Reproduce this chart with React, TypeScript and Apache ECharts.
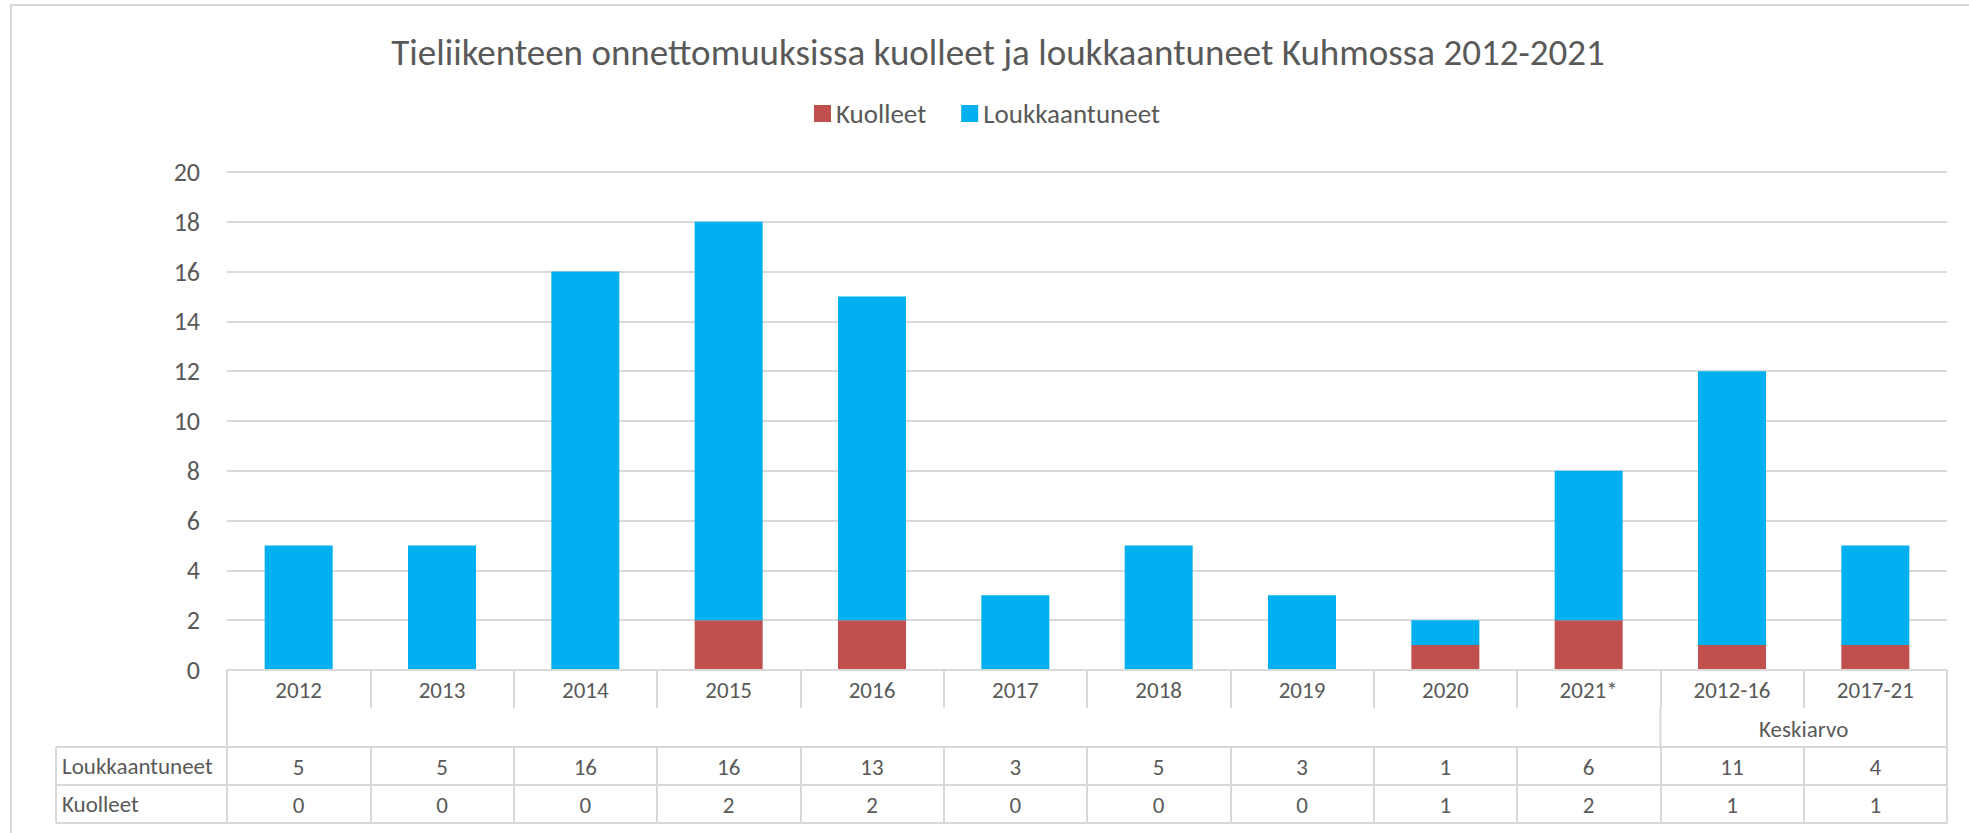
import React, { useEffect, useRef } from "react";
import * as echarts from "echarts";

const categories = ["2012", "2013", "2014", "2015", "2016", "2017", "2018", "2019", "2020", "2021*", "2012-16", "2017-21"];
const kuolleet = [0, 0, 0, 2, 2, 0, 0, 0, 1, 2, 1, 1];
const loukkaantuneet = [5, 5, 16, 16, 13, 3, 5, 3, 1, 6, 11, 4];
const yTicks = { min: 0, max: 20, interval: 2 };
const groupLabel = "Keskiarvo";
const groupStartIndex = 10;
const titleText = "Tieliikenteen onnettomuuksissa kuolleet ja loukkaantuneet Kuhmossa 2012-2021";

const FONT = "Carlito, Calibri, Lato, sans-serif";
const TXT = "#595959";
const LINE = "#D9D9D9";
const RED = "#C0504D";
const BLUE = "#00B0F0";

const ROW1 = 38; // category label row height
const ROW2 = 77; // top of data table
const ROW3 = 115;
const ROW4 = 153;
const TABLE_LEFT = 56;

export default function App() {
  const ref = useRef<HTMLDivElement>(null);
  useEffect(() => {
    if (!ref.current) return;
    const chart = echarts.init(ref.current, undefined, { renderer: "svg" });
    const axisLine = { show: true, lineStyle: { color: LINE, width: 2 } };
    const tick = { show: true, interval: 0, length: ROW1, lineStyle: { color: LINE, width: 2 } };
    const lbl = (fmt: any) => ({
      show: true,
      interval: 0,
      margin: 8,
      color: TXT,
      fontFamily: FONT,
      fontSize: 23,
      formatter: fmt,
    });
    chart.setOption({
      animation: false,
      backgroundColor: "#ffffff",
      title: {
        text: titleText,
        left: 993,
        textAlign: "center",
        top: 29,
        textStyle: { color: TXT, fontFamily: FONT, fontSize: 37, fontWeight: "normal" },
      },
      legend: {
        data: ["Kuolleet", "Loukkaantuneet"],
        left: 809,
        top: 95,
        icon: "rect",
        itemWidth: 17,
        itemHeight: 17,
        itemGap: 35,
        textStyle: { color: TXT, fontFamily: FONT, fontSize: 27 },
      },
      grid: { left: 227, right: 22, top: 172, bottom: 163, containLabel: false },
      yAxis: {
        type: "value",
        min: yTicks.min,
        max: yTicks.max,
        interval: yTicks.interval,
        axisLine: { show: false },
        axisTick: { show: false },
        axisLabel: { color: TXT, fontFamily: FONT, fontSize: 26, margin: 27 },
        splitLine: { show: true, lineStyle: { color: LINE, width: 2 } },
      },
      xAxis: [
        {
          type: "category",
          data: categories,
          position: "bottom",
          boundaryGap: true,
          axisLine,
          axisTick: tick,
          axisLabel: lbl((v: string) => v),
          z: 5,
        },
        {
          type: "category",
          data: categories,
          position: "bottom",
          offset: ROW2,
          boundaryGap: true,
          axisLine,
          axisTick: tick,
          axisLabel: lbl((_v: string, i: number) => String(loukkaantuneet[i])),
        },
        {
          type: "category",
          data: categories,
          position: "bottom",
          offset: ROW3,
          boundaryGap: true,
          axisLine,
          axisTick: tick,
          axisLabel: lbl((_v: string, i: number) => String(kuolleet[i])),
        },
        {
          type: "category",
          data: categories,
          position: "bottom",
          offset: ROW4,
          boundaryGap: true,
          axisLine,
          axisTick: { show: false },
          axisLabel: { show: false },
        },
      ],
      series: [
        {
          name: "Kuolleet",
          type: "bar",
          stack: "total",
          data: kuolleet,
          barWidth: 68,
          itemStyle: { color: RED },
        },
        {
          name: "Loukkaantuneet",
          type: "bar",
          stack: "total",
          data: loukkaantuneet,
          barWidth: 68,
          itemStyle: { color: BLUE },
        },
      ],
    });

    const c0 = chart.convertToPixel({ xAxisIndex: 0 }, categories[0]) as number;
    const c1 = chart.convertToPixel({ xAxisIndex: 0 }, categories[1]) as number;
    const bw = c1 - c0;
    const leftX = c0 - bw / 2;
    const rightX = leftX + bw * categories.length;
    const groupX = leftX + bw * groupStartIndex;
    const baseY = chart.convertToPixel({ yAxisIndex: 0 }, 0) as number;
    const ls = { stroke: LINE, lineWidth: 2 };
    const vline = (x: number, y1: number, y2: number) => ({
      type: "line",
      shape: { x1: x, y1, x2: x, y2 },
      style: ls,
      silent: true,
    });
    const hline = (y: number, x1: number, x2: number) => ({
      type: "line",
      shape: { x1, y1: y, x2, y2: y },
      style: ls,
      silent: true,
    });
    chart.setOption({
      graphic: [
        {
          type: "rect",
          shape: { x: 11, y: 5, width: 2100, height: 1000 },
          style: { fill: "none", stroke: LINE, lineWidth: 2 },
          silent: true,
        },
        vline(leftX, baseY + ROW1, baseY + ROW2),
        vline(groupX, baseY + ROW1, baseY + ROW2),
        vline(rightX, baseY + ROW1, baseY + ROW2),
        hline(baseY + ROW2, TABLE_LEFT, leftX),
        hline(baseY + ROW3, TABLE_LEFT, leftX),
        hline(baseY + ROW4, TABLE_LEFT, leftX),
        vline(TABLE_LEFT, baseY + ROW2, baseY + ROW4),
        {
          type: "text",
          x: TABLE_LEFT + 6,
          y: baseY + (ROW2 + ROW3) / 2,
          style: { text: "Loukkaantuneet", fill: TXT, font: `23px ${FONT}`, textVerticalAlign: "middle", verticalAlign: "middle" },
        },
        {
          type: "text",
          x: TABLE_LEFT + 6,
          y: baseY + (ROW3 + ROW4) / 2,
          style: { text: "Kuolleet", fill: TXT, font: `23px ${FONT}`, textVerticalAlign: "middle", verticalAlign: "middle" },
        },
        {
          type: "text",
          x: (groupX + rightX) / 2,
          y: baseY + (ROW1 + ROW2) / 2 + 1,
          style: { text: groupLabel, fill: TXT, font: `23px ${FONT}`, align: "center", textAlign: "center", verticalAlign: "middle", textVerticalAlign: "middle" },
        },
      ],
    });
    return () => chart.dispose();
  }, []);
  return <div ref={ref} style={{ position: "absolute", left: 0, top: 0, width: 1969, height: 833 }} />;
}
